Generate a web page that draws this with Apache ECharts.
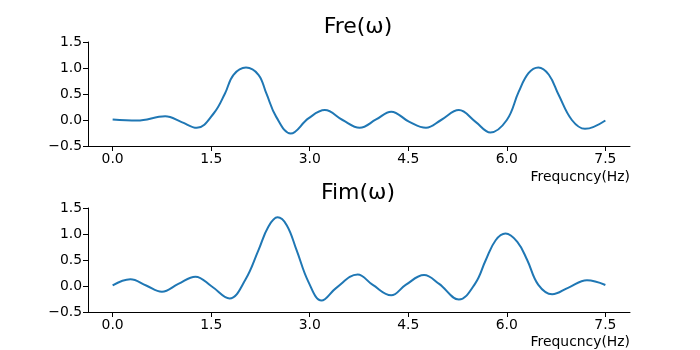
<!DOCTYPE html>
<html>
<head>
<meta charset="utf-8">
<script src="https://cdn.jsdelivr.net/npm/echarts@6/dist/echarts.min.js"></script>
<style>
  html, body { margin: 0; padding: 0; background: #fff; }
  #chart { width: 700px; height: 350px; }
</style>
</head>
<body>
<div id="chart"></div>
<script>
// values: [frequency, value]
const freData = [
  [0, 0.01], [0.37, -0.01], [0.80, 0.07], [1.05, -0.04], [1.28, -0.15],
  [1.54, 0.13], [1.71, 0.51], [1.84, 0.87], [2.03, 1.01], [2.22, 0.87],
  [2.34, 0.51], [2.49, 0.06], [2.71, -0.26], [2.98, 0.03], [3.23, 0.19],
  [3.50, 0.0], [3.76, -0.15], [4.01, 0.01], [4.24, 0.16], [4.51, -0.03],
  [4.77, -0.15], [5.0, 0.0], [5.27, 0.19], [5.52, -0.03], [5.75, -0.24],
  [6.0, 0.0], [6.18, 0.54], [6.33, 0.90], [6.48, 1.01], [6.64, 0.87],
  [6.79, 0.48], [6.99, 0.0], [7.19, -0.17], [7.5, -0.01]
]
const fimData = [
  [0, 0.01], [0.27, 0.13], [0.51, 0.01], [0.75, -0.11], [1.0, 0.04],
  [1.26, 0.18], [1.51, -0.01], [1.78, -0.24], [2.02, 0.12], [2.22, 0.69],
  [2.37, 1.14], [2.51, 1.32], [2.65, 1.17], [2.80, 0.69], [2.98, 0.08],
  [3.18, -0.28], [3.40, -0.04], [3.73, 0.22], [3.96, 0.02], [4.24, -0.18],
  [4.46, 0.02], [4.74, 0.21], [4.97, 0.04], [5.27, -0.26], [5.52, 0.05],
  [5.68, 0.5], [5.83, 0.88], [5.98, 1.01], [6.16, 0.85], [6.31, 0.5],
  [6.48, 0.02], [6.69, -0.16], [6.94, -0.03], [7.22, 0.11], [7.5, 0.02]
]
const xTicks = [0, 1.5, 3.0, 4.5, 6.0, 7.5]
const titles = ['Fre(ω)', 'Fim(ω)']
const xName = 'Frequcncy(Hz)'

const font = 'DejaVu Sans'
const fmt = v => v.toFixed(1).replace('-', '\u2212')

function xAxisFor (idx) {
  return {
    gridIndex: idx,
    type: 'value',
    min: -0.375,
    max: 7.875,
    axisLine: { show: true, onZero: false, lineStyle: { color: '#000', width: 1 } },
    axisTick: { show: true, customValues: xTicks, length: 5, lineStyle: { color: '#000' } },
    axisLabel: { customValues: xTicks, formatter: fmt, color: '#000', fontFamily: font, fontSize: 13.9, margin: 6 },
    splitLine: { show: false }
  }
}

function yAxisFor (idx) {
  return {
    gridIndex: idx,
    type: 'value',
    min: -0.5,
    max: 1.5,
    interval: 0.5,
    axisLine: { show: true, onZero: false, lineStyle: { color: '#000', width: 1 } },
    axisTick: { show: true, length: 5, lineStyle: { color: '#000' } },
    axisLabel: { formatter: fmt, color: '#000', fontFamily: font, fontSize: 13.9, margin: 6 },
    splitLine: { show: false }
  }
}

function textFor (text, x, y, size, align) {
  return {
    type: 'text', x: x, y: y,
    style: { text: text, fill: '#000', font: size + 'px "' + font + '"', textAlign: align, textVerticalAlign: 'middle' }
  }
}

const chart = echarts.init(document.getElementById('chart'))
chart.setOption({
  animation: false,
  graphic: [
    textFor(titles[0], 358, 27, 22, 'center'),
    textFor(titles[1], 358, 193, 22, 'center'),
    textFor(xName, 630, 177, 13.9, 'right'),
    textFor(xName, 630, 342, 13.9, 'right')
  ],
  grid: [
    { left: 88, right: 70, top: 42, height: 104 },
    { left: 88, right: 70, top: 208, height: 104 }
  ],
  xAxis: [xAxisFor(0), xAxisFor(1)],
  yAxis: [yAxisFor(0), yAxisFor(1)],
  series: [
    {
      type: 'line', xAxisIndex: 0, yAxisIndex: 0, data: freData,
      smooth: 0.4, showSymbol: false,
      lineStyle: { color: '#1f77b4', width: 2 }
    },
    {
      type: 'line', xAxisIndex: 1, yAxisIndex: 1, data: fimData,
      smooth: 0.4, showSymbol: false,
      lineStyle: { color: '#1f77b4', width: 2 }
    }
  ]
})
</script>
</body>
</html>
